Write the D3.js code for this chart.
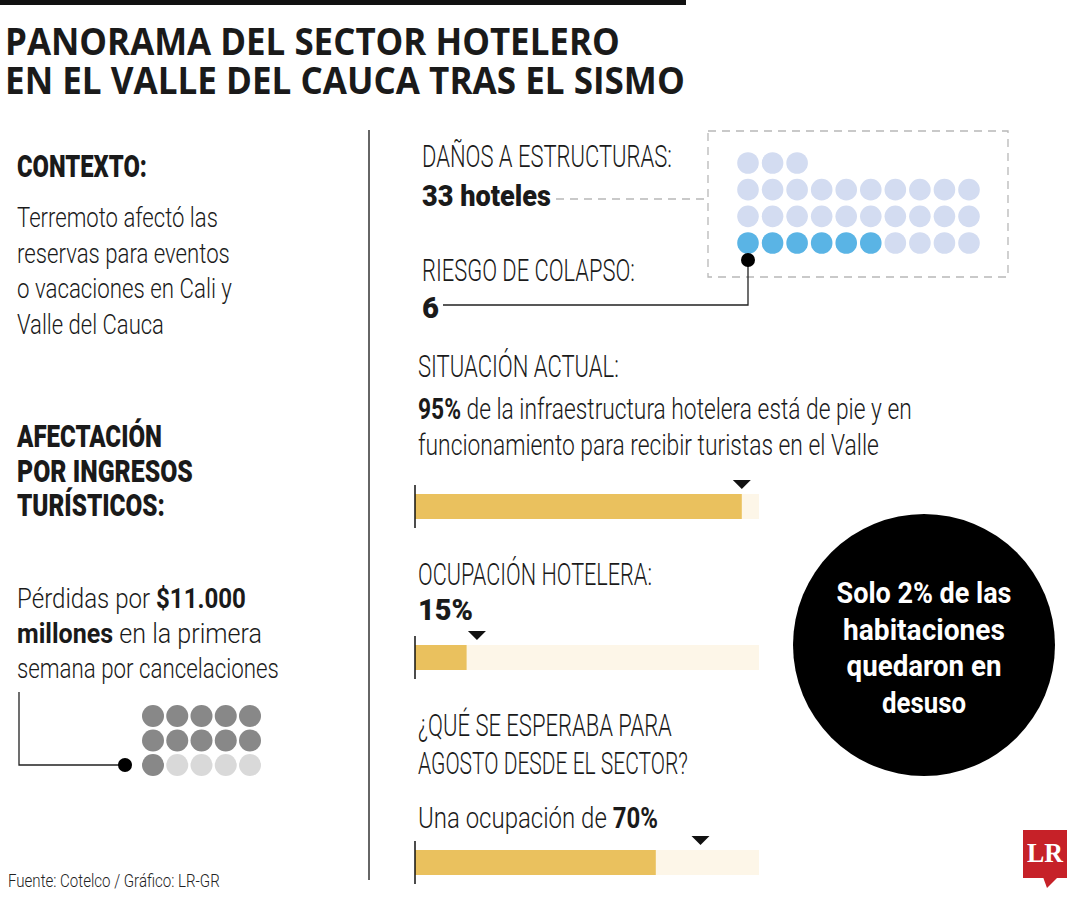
<!DOCTYPE html>
<html>
<head>
<meta charset="utf-8">
<script src="https://cdn.jsdelivr.net/npm/d3@7"></script>
<style>
  body { margin: 0; background: #fff; }
  svg { display: block; }
  text { white-space: pre; }
</style>
</head>
<body>
<svg id="chart" width="1080" height="900"></svg>
<script>
// Datos del grafico
var hotelesDanados = 33;
var hotelesColapso = 6;
var columnasHoteles = 10;

var perdidasPuntos = 15;
var perdidasActivos = 11;
var columnasPerdidas = 5;

var barrasNombres = ["situacion", "ocupacion", "agosto"];
var barrasValores = [95, 15, 70];
var marcadoresValores = [95, 18, 83];

var tituloLineas = ["PANORAMA DEL SECTOR HOTELERO", "EN EL VALLE DEL CAUCA TRAS EL SISMO"];
var contextoLineas = ["Terremoto afectó las", "reservas para eventos", "o vacaciones en Cali y", "Valle del Cauca"];
var afectacionLineas = ["AFECTACIÓN", "POR INGRESOS", "TURÍSTICOS:"];
var circuloLineas = ["Solo 2% de las", "habitaciones", "quedaron en", "desuso"];

var svg = d3.select("#chart");
var FONT = "Roboto, 'Open Sans', sans-serif";

// escribe una linea (con partes en negrita) y la ajusta al ancho dado
function texto(x, y, partes, size, ancho, opts) {
  opts = opts || {};
  var t = svg.append("text")
    .attr("font-size", size)
    .attr("font-family", opts.family || FONT)
    .attr("fill", opts.fill || "#1a1a1a")
    .attr("text-anchor", opts.anchor || "start");
  partes.forEach(function(p) {
    t.append("tspan")
      .attr("font-weight", p[1] ? (opts.bold || 700) : 300)
      .text(p[0]);
  });
  var w = t.node().getComputedTextLength();
  var s = ancho ? ancho / w : 1;
  t.attr("transform", "translate(" + x + "," + y + ") scale(" + s + ",1)");
  return t;
}

// barra superior y titulo
svg.append("rect").attr("x", 0).attr("y", 0).attr("width", 686).attr("height", 5).attr("fill", "#111");

var tituloAnchos = [615, 680];
tituloLineas.forEach(function(l, i) {
  texto(5, 55 + i * 39, [[l, true]], 38, tituloAnchos[i], {family: "'Open Sans', sans-serif"});
});

// divisor
svg.append("line")
  .attr("x1", 369).attr("x2", 369).attr("y1", 130).attr("y2", 880)
  .attr("stroke", "#333").attr("stroke-width", 1.5);

// columna izquierda
texto(17, 177, [["CONTEXTO:", true]], 32, 130, {bold: 900});
var contextoAnchos = [201, 213, 215, 147];
contextoLineas.forEach(function(l, i) {
  texto(17, 227 + i * 35.5, [[l, false]], 28, contextoAnchos[i]);
});

var afectacionAnchos = [145, 176, 148];
afectacionLineas.forEach(function(l, i) {
  texto(17, 447 + i * 34.5, [[l, true]], 32, afectacionAnchos[i], {bold: 900});
});

texto(17, 608, [["Pérdidas por ", false], ["$11.000", true]], 28, 229);
texto(17, 643, [["millones", true], [" en la primera", false]], 28, 245);
texto(17, 678, [["semana por cancelaciones", false]], 28, 262);

var xPerd = d3.scaleLinear().domain([0, columnasPerdidas - 1]).range([153, 250]);
var yPerd = d3.scaleLinear().domain([0, Math.ceil(perdidasPuntos / columnasPerdidas) - 1]).range([716, 765]);

svg.append("path")
  .attr("d", "M19,692V" + yPerd(2) + "H125")
  .attr("fill", "none").attr("stroke", "#222").attr("stroke-width", 1.3);
svg.append("circle").attr("cx", 125).attr("cy", yPerd(2)).attr("r", 7).attr("fill", "#000");

svg.append("g").selectAll("circle")
  .data(d3.range(perdidasPuntos))
  .enter()
  .append("circle")
    .attr("cx", function(d) { return xPerd(d % columnasPerdidas); })
    .attr("cy", function(d) { return yPerd(Math.floor(d / columnasPerdidas)); })
    .attr("r", 11)
    .attr("fill", function(d) { return d < perdidasActivos ? "#888888" : "#d9d9d9"; });

texto(8, 887, [["Fuente: Cotelco / Gráfico: LR-GR", false]], 18, 212, {fill: "#222"});

// columna derecha: hoteles
texto(422, 167, [["DAÑOS A ESTRUCTURAS:", false]], 31, 250);
texto(422, 206, [["33 hoteles", true]], 30, 129, {bold: 900});
texto(422, 281, [["RIESGO DE COLAPSO:", false]], 31, 213);
texto(422, 318, [["6", true]], 30, 17, {bold: 900});

svg.append("line")
  .attr("x1", 556).attr("x2", 708).attr("y1", 199).attr("y2", 199)
  .attr("stroke", "#b8b8b8").attr("stroke-width", 1.3).attr("stroke-dasharray", "8,6");
svg.append("rect")
  .attr("x", 708).attr("y", 131).attr("width", 300).attr("height", 146)
  .attr("fill", "none").attr("stroke", "#b8b8b8").attr("stroke-width", 1.3).attr("stroke-dasharray", "8,6");

var filasHoteles = Math.ceil(hotelesDanados / columnasHoteles);
var xHotel = d3.scaleLinear().domain([0, columnasHoteles - 1]).range([748, 969]);
var yHotel = d3.scaleLinear().domain([0, filasHoteles - 1]).range([243, 163]);

svg.append("g").selectAll("circle")
  .data(d3.range(hotelesDanados))
  .enter()
  .append("circle")
    .attr("cx", function(d) { return xHotel(d % columnasHoteles); })
    .attr("cy", function(d) { return yHotel(Math.floor(d / columnasHoteles)); })
    .attr("r", 10.8)
    .attr("fill", function(d) { return d < hotelesColapso ? "#5ab4e5" : "#d3dcf1"; });

svg.append("path")
  .attr("d", "M" + xHotel(0) + ",260V305H443")
  .attr("fill", "none").attr("stroke", "#222").attr("stroke-width", 1.3);
svg.append("circle").attr("cx", xHotel(0)).attr("cy", 260).attr("r", 7).attr("fill", "#000");

// situacion actual y ocupacion
texto(418, 377, [["SITUACIÓN ACTUAL:", false]], 31, 201);
texto(418, 419, [["95%", true], [" de la infraestructura hotelera está de pie y en", false]], 29, 494);
texto(418, 455, [["funcionamiento para recibir turistas en el Valle", false]], 29, 461);

texto(418, 585, [["OCUPACIÓN HOTELERA:", false]], 31, 234);
texto(418, 620, [["15%", true]], 30, 55, {bold: 900});

texto(418, 736, [["¿QUÉ SE ESPERABA PARA", false]], 31, 254);
texto(418, 774, [["AGOSTO DESDE EL SECTOR?", false]], 31, 270);
texto(418, 828, [["Una ocupación de ", false], ["70%", true]], 29, 240);

var xBarra = d3.scaleLinear().domain([0, 100]).range([415, 759]);
var barrasY = [494, 645, 850];
var altoBarra = 25;

var barras = svg.append("g").selectAll("g")
  .data(barrasNombres)
  .enter()
  .append("g")
    .attr("class", function(d) { return "barra " + d; })
    .attr("transform", function(d, i) { return "translate(0," + barrasY[i] + ")"; });

barras.append("rect")
  .attr("x", xBarra(0)).attr("y", 0)
  .attr("width", xBarra(100) - xBarra(0)).attr("height", altoBarra)
  .attr("fill", "#fdf6e8");

barras.append("rect")
  .attr("x", xBarra(0)).attr("y", 0)
  .attr("width", function(d, i) { return xBarra(barrasValores[i]) - xBarra(0); })
  .attr("height", altoBarra)
  .attr("fill", "#eac15e");

barras.append("line")
  .attr("x1", xBarra(0)).attr("x2", xBarra(0)).attr("y1", -9).attr("y2", altoBarra + 9)
  .attr("stroke", "#111").attr("stroke-width", 1.5);

barras.append("path")
  .attr("d", function(d, i) {
    var cx = xBarra(marcadoresValores[i]);
    return "M" + (cx - 9) + ",-14H" + (cx + 9) + "L" + cx + ",-5Z";
  })
  .attr("fill", "#111");

// circulo negro
svg.append("circle").attr("cx", 924).attr("cy", 645).attr("r", 131).attr("fill", "#000");
var circuloAnchos = [175, 162, 155, 84];
circuloLineas.forEach(function(l, i) {
  texto(924, 603 + i * 36.5, [[l, true]], 30, circuloAnchos[i], {fill: "#fff", anchor: "middle"});
});

// logo LR
svg.append("rect").attr("x", 1023).attr("y", 830).attr("width", 44).attr("height", 48).attr("fill", "#c62128");
svg.append("path").attr("d", "M1043,877H1058L1047,888Z").attr("fill", "#c62128");
texto(1045, 862, [["LR", true]], 27, 36, {fill: "#fff", anchor: "middle", family: "'Liberation Serif', 'DejaVu Serif', serif"});
</script>
</body>
</html>
